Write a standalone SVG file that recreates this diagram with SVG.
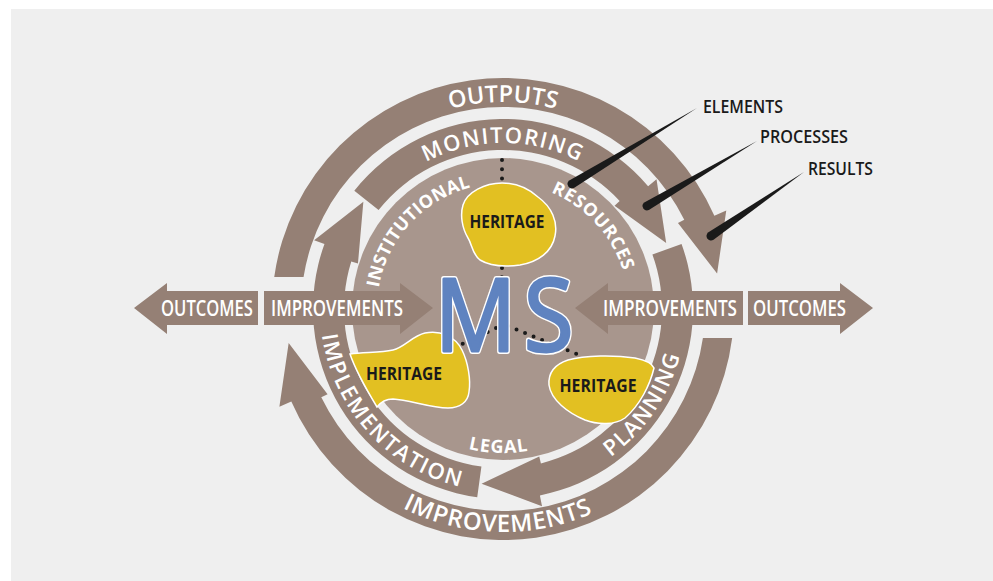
<svg xmlns="http://www.w3.org/2000/svg" width="993" height="581" viewBox="0 0 993 581">
<style>
.band{fill:#958075}
.disk{fill:#a8968d}
.wt{fill:#fff;font-family:"Open Sans","Noto Sans",sans-serif;font-weight:600}
.wb{fill:#fff;font-family:"Open Sans","Noto Sans",sans-serif;font-weight:700}
.blob{fill:#e2c022;stroke:#fff;stroke-width:1.5}
.ht{fill:#1a1a1a;font-family:"Open Sans","Noto Sans",sans-serif;font-weight:700;font-size:17.5px;text-anchor:middle}
.lab{fill:#1a1a1a;font-family:"Open Sans","Noto Sans",sans-serif;font-weight:600;font-size:17.5px}
.dots{fill:none;stroke:#1a1a1a;stroke-width:4;stroke-linecap:round;stroke-dasharray:0 9.2}
.ptr{fill:#1a1a1a}
.msw{fill:#fff;stroke:#fff;stroke-width:6;stroke-linejoin:round}
.msb{fill:#5f83c0;stroke:#5f83c0;stroke-width:3;stroke-linejoin:round}
</style>
<defs>
<path id="top207" d="M296,309 A207,207 0 0 1 710,309"/>
<path id="top166" d="M337,309 A166,166 0 0 1 669,309"/>
<path id="top126" d="M377,309 A126,126 0 0 1 629,309"/>
<path id="bot183" d="M320,309 A183,183 0 0 0 686,309"/>
<path id="bot223" d="M280,309 A223,223 0 0 0 726,309"/>
<path id="bot144" d="M359,309 A144,144 0 0 0 647,309"/>
<text id="mst" transform="translate(435,351) scale(0.9,1)" font-family="Open Sans, Noto Sans, sans-serif" font-size="100"><tspan x="0" y="0">M</tspan><tspan x="98.9" y="0">S</tspan></text>
</defs>
<rect x="11" y="9" width="982" height="572" fill="#efefef"/>

<g id="outer-ring">
<path class="band" d="M274.23,277 A231,231 0 0 1 714.37,215.79 L726.26,210.55 L717.09,273.56 L677.97,222.91 L684.25,219.82 A202,202 0 0 0 303.55,277 Z"/>
<path class="band" d="M732.17,338 A231,231 0 0 1 291.31,401.47 L279.40,406.67 L288.67,342.94 L327.58,394.18 L321.28,397.23 A202,202 0 0 0 702.91,338 Z"/>
<text class="wt" font-size="23.5" text-anchor="middle"><textPath href="#top207" startOffset="50%">OUTPUTS</textPath></text>
<text class="wt" font-size="24" letter-spacing="0.8" text-anchor="middle"><textPath href="#bot223" startOffset="49.2%">IMPROVEMENTS</textPath></text>
</g>

<g id="middle-ring">
<path class="band" d="M354.31,190.72 A190,190 0 0 1 648.12,186.35 L656.52,179.25 L666.19,243.07 L614.52,205.73 L619.66,200.98 A159,159 0 0 0 378.57,210.02 Z"/>
<path class="band" d="M681.54,244.02 A190,190 0 0 1 539.90,495.39 L542.03,506.18 L481.55,483.68 L539.25,456.61 L540.92,463.40 A159,159 0 0 0 652.41,254.62 Z"/>
<path class="band" d="M477.22,497.23 A190,190 0 0 1 324.46,244.02 L314.12,240.26 L363.36,201.85 L357.96,263.55 L351.28,261.46 A159,159 0 0 0 481.42,466.52 Z"/>
<text class="wt" font-size="22" letter-spacing="1.5" text-anchor="middle"><textPath href="#top166" startOffset="50%">MONITORING</textPath></text>
<text class="wt" font-size="22" letter-spacing="1.7" text-anchor="middle"><textPath href="#bot183" startOffset="23.6%">IMPLEMENTATION</textPath></text>
<text class="wt" font-size="22" letter-spacing="1.5" text-anchor="middle"><textPath href="#bot183" startOffset="81%">PLANNING</textPath></text>
</g>

<g id="disk">
<circle class="disk" cx="503" cy="309" r="151"/>
<text class="wb" font-size="18" letter-spacing="0.4" text-anchor="middle"><textPath href="#top126" startOffset="23.6%">INSTITUTIONAL</textPath></text>
<text class="wb" font-size="18" letter-spacing="0.8" text-anchor="middle"><textPath href="#top126" startOffset="76.4%">RESOURCES</textPath></text>
<text class="wb" font-size="18" letter-spacing="1" text-anchor="middle"><textPath href="#bot144" startOffset="49%">LEGAL</textPath></text>
</g>

<g id="connectors">
<path class="dots" d="M502,160 L502,181"/>
<path class="dots" d="M502,268 L501,325"/>
<path class="dots" d="M496,328 L458,346"/>
<path class="dots" d="M508,326 L584,357"/>
</g>

<g id="heritage-top">
<path class="blob" d="M502,183 C515,183 528,188 538,197 C552,207 558,222 555,236 C552,252 538,262 520,265 C505,267 490,266 480,260 C472,254 472,244 468,238 C462,228 460,215 463,205 C467,192 485,183 502,183 Z"/>
<text class="ht" x="507" y="228" textLength="75" lengthAdjust="spacingAndGlyphs">HERITAGE</text>
</g>
<g id="heritage-left">
<path class="blob" d="M350,354 C365,352 380,353 393,350 C405,347 412,336 425,333 C440,330 455,336 462,350 C468,362 471,380 469,392 C468,402 460,408 448,408 C430,408 410,400 393,399 C385,399 380,403 377,407 C368,392 356,372 350,354 Z"/>
<text class="ht" x="404" y="380" textLength="76" lengthAdjust="spacingAndGlyphs">HERITAGE</text>
</g>
<g id="heritage-right">
<path class="blob" d="M549,385 C548,372 556,364 568,360 C585,355 615,355 635,358 C645,360 652,363 654,368 C650,385 640,405 625,418 C615,425 598,425 585,420 C568,413 551,400 549,385 Z"/>
<text class="ht" x="598" y="392" textLength="77" lengthAdjust="spacingAndGlyphs">HERITAGE</text>
</g>

<g id="ms">
<use href="#mst" class="msw"/>
<use href="#mst" class="msb"/>
</g>

<g id="arrows-left">
<path class="band" d="M134,308 L167,283 L167,291 L258,291 L258,325 L167,325 L167,334 Z"/>
<path class="band" d="M264,291 L400,291 L400,283 L433,308 L400,334 L400,325 L264,325 Z"/>
<text class="wt" font-size="22" x="161" y="316" textLength="92" lengthAdjust="spacingAndGlyphs">OUTCOMES</text>
<text class="wt" font-size="22" x="271" y="316" textLength="132" lengthAdjust="spacingAndGlyphs">IMPROVEMENTS</text>
</g>
<g id="arrows-right">
<path class="band" d="M575,308 L608,283 L608,291 L743,291 L743,325 L608,325 L608,334 Z"/>
<path class="band" d="M748,291 L840,291 L840,283 L873,308 L840,334 L840,325 L748,325 Z"/>
<text class="wt" font-size="22" x="603" y="316" textLength="134" lengthAdjust="spacingAndGlyphs">IMPROVEMENTS</text>
<text class="wt" font-size="22" x="753" y="316" textLength="93" lengthAdjust="spacingAndGlyphs">OUTCOMES</text>
</g>

<g id="pointers">
<path class="ptr" d="M574.34,187.84 L697,108 L569.66,180.16 A4.5,4.5 0 0 0 574.34,187.84 Z"/>
<path class="ptr" d="M649.29,209.87 L757,141 L644.71,202.13 A4.5,4.5 0 0 0 649.29,209.87 Z"/>
<path class="ptr" d="M713.55,239.71 L804,172 L708.45,232.29 A4.5,4.5 0 0 0 713.55,239.71 Z"/>
</g>
<g id="label-elements"><text class="lab" x="703" y="113" textLength="80" lengthAdjust="spacingAndGlyphs">ELEMENTS</text></g>
<g id="label-processes"><text class="lab" x="760" y="143" textLength="88" lengthAdjust="spacingAndGlyphs">PROCESSES</text></g>
<g id="label-results"><text class="lab" x="808" y="175" textLength="65" lengthAdjust="spacingAndGlyphs">RESULTS</text></g>
</svg>
